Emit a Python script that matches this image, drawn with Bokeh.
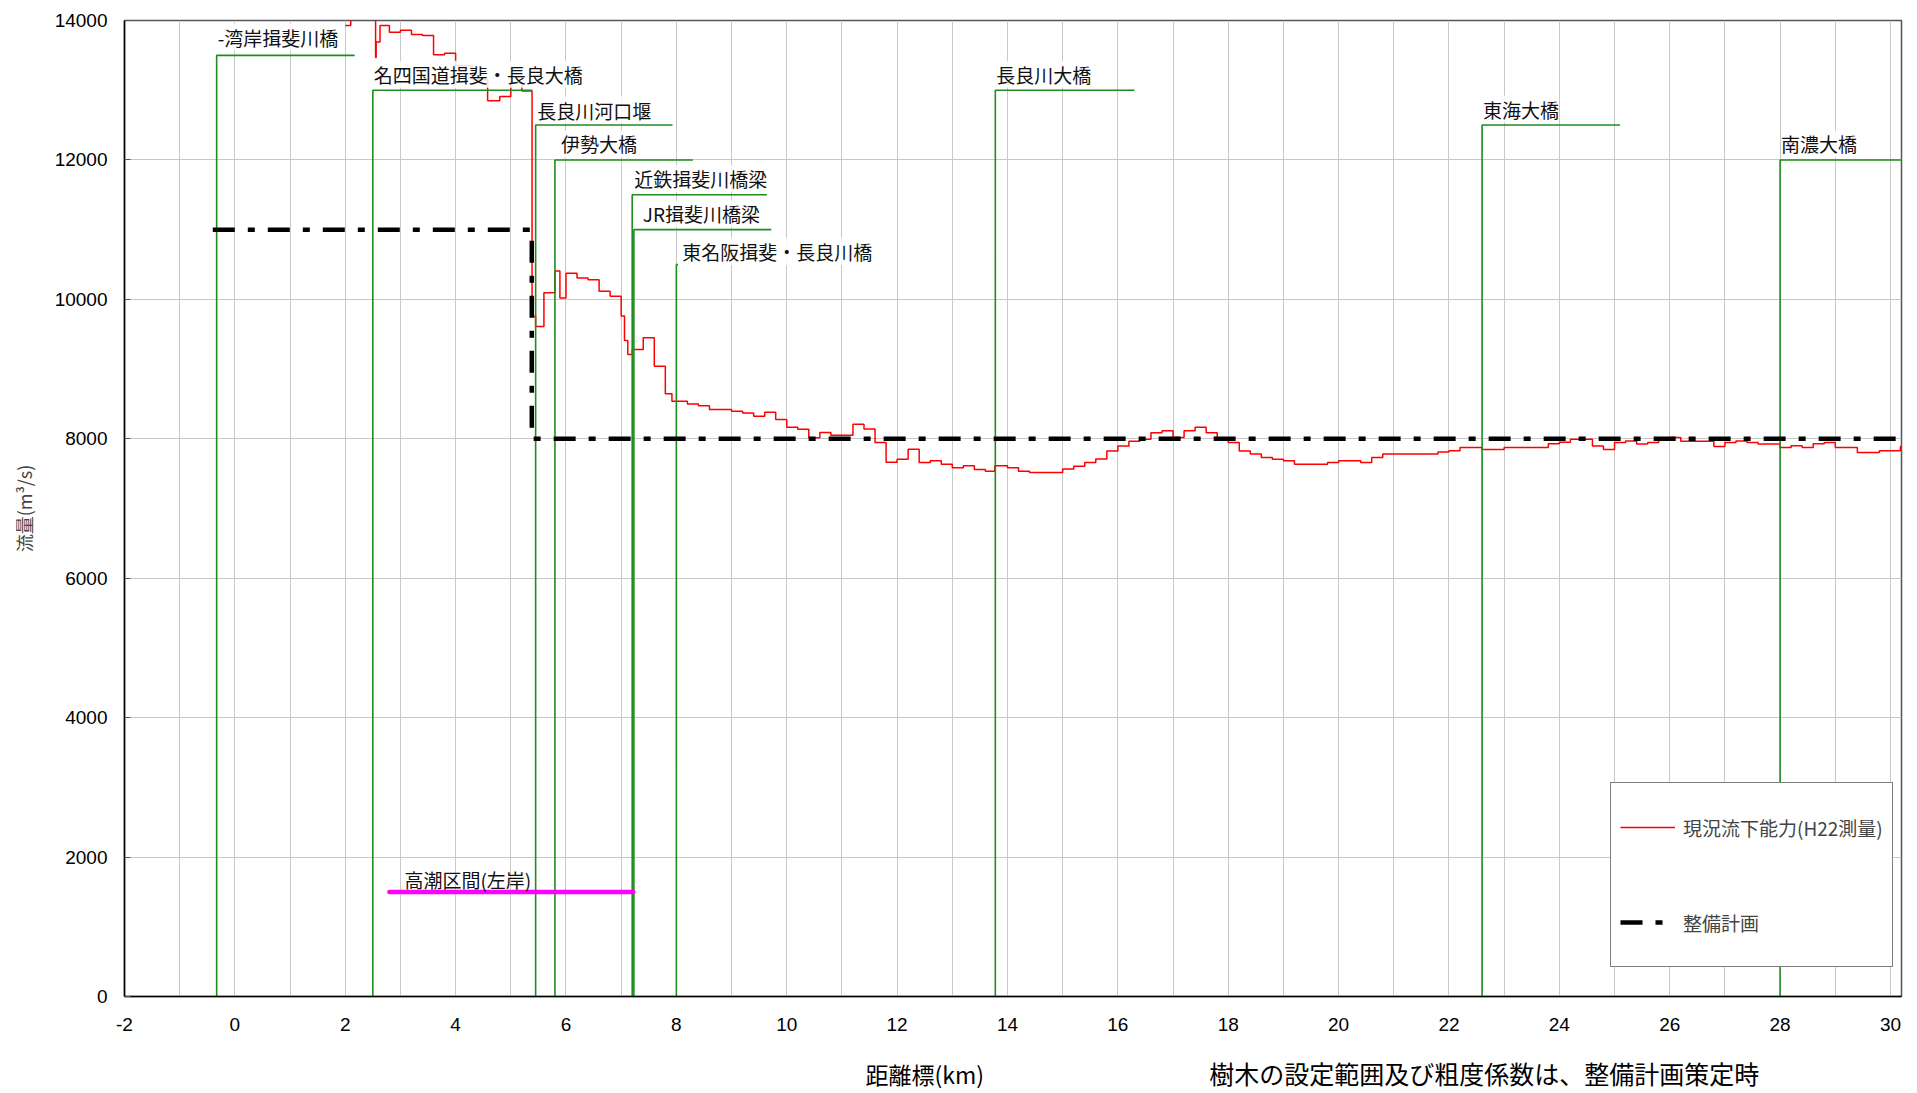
from bokeh.plotting import figure
from bokeh.models import Range1d, FixedTicker, Label, Legend, LegendItem
from bokeh.layouts import column
from bokeh.core.properties import value
from bokeh.embed import file_html
from bokeh.resources import INLINE

# ---------------- data ----------------
x_ticks = list(range(-2, 31, 2))
x_grid = list(range(-2, 31))
y_ticks = list(range(0, 14001, 2000))

# 現況流下能力(H22測量): step starts (km) and discharge (m3/s)
red_km = [2.0, 2.1, 2.55, 2.56, 2.63, 2.8, 3.0, 3.2, 3.4, 3.6, 3.8, 4.0, 4.3, 4.58, 4.8, 5.0, 5.2,
          5.385, 5.45, 5.6, 5.8, 5.89, 6.0, 6.2, 6.4, 6.6, 6.8, 7.0, 7.06, 7.12, 7.2, 7.4, 7.6, 7.8,
          7.92, 8.2, 8.4, 8.6, 9.0, 9.2, 9.4, 9.6, 9.8, 10.0, 10.2, 10.4, 10.6, 10.8, 11.2, 11.4,
          11.6, 11.8, 12.0, 12.2, 12.4, 12.6, 12.8, 13.0, 13.2, 13.4, 13.6, 13.77, 14.0, 14.2, 14.4,
          15.0, 15.2, 15.4, 15.6, 15.8, 16.0, 16.2, 16.4, 16.6, 16.8, 17.0, 17.2, 17.4, 17.6, 17.8,
          18.0, 18.2, 18.4, 18.6, 18.8, 19.0, 19.2, 19.8, 20.0, 20.4, 20.6, 20.8, 21.8, 22.0, 22.2,
          22.6, 23.0, 23.8, 24.0, 24.2, 24.6, 24.8, 25.0, 25.2, 25.4, 25.6, 25.8, 26.0, 26.2, 26.8,
          27.0, 27.2, 27.4, 27.6, 28.0, 28.2, 28.4, 28.6, 28.8, 29.0, 29.4, 29.8, 30.18]
red_q = [13930, 14100, 13470, 13690, 13930, 13830, 13860, 13800, 13785, 13510, 13530, 13350, 13150,
         12850, 12910, 13100, 12990,
         9755, 9610, 10095, 10405, 10020, 10375, 10305, 10280, 10115, 10045, 9760, 9410, 9210, 9280,
         9450, 9040, 8645,
         8540, 8500, 8475, 8420, 8395, 8370, 8325, 8380, 8275, 8165, 8135, 8015, 8090, 8050, 8210, 8140,
         7945, 7665, 7705, 7850, 7660, 7685, 7635, 7585, 7615, 7560, 7535, 7615, 7585, 7535, 7515,
         7565, 7605, 7660, 7710, 7825, 7895, 7965, 7995, 8085, 8115, 8020, 8115, 8165, 8085, 7995,
         7945, 7825, 7780, 7730, 7705, 7685, 7635, 7660, 7685, 7660, 7730, 7780, 7810, 7830, 7875,
         7845, 7875, 7930, 7950, 7995, 7895, 7845, 7945, 7970, 7925, 7945, 7995, 8020, 7965, 7890,
         7945, 7970, 7945, 7925, 7875, 7900, 7875, 7930, 7945, 7875, 7805, 7830, 7890]
red_end_km = 30.2

# 整備計画
plan_km = [-0.4, 5.38, 5.38, 30.2]
plan_q = [11000, 11000, 8000, 8000]

# 橋梁
bridge_names = ["-湾岸揖斐川橋", "名四国道揖斐・長良大橋", "長良川河口堰", "伊勢大橋", "近鉄揖斐川橋梁",
                "JR揖斐川橋梁", "東名阪揖斐・長良川橋", "長良川大橋", "東海大橋", "南濃大橋"]
bridge_km = [-0.33, 2.5, 5.45, 5.8, 7.2, 7.23, 8.0, 13.78, 22.6, 28.0]
bridge_top = [13500, 13000, 12500, 12000, 11500, 11000, 10500, 13000, 12500, 12000]
bridge_end = [2.17, 5.39, 7.93, 8.3, 9.64, 9.72, 8.03, 16.3, 25.1, 30.2]

# 高潮区間(左岸)
tide_km = [2.8, 7.22]
tide_q = [1500, 1500]
tide_name = "高潮区間(左岸)"

x_title = "距離標(km)"
y_title = "流量(m³/s)"
note_text = "樹木の設定範囲及び粗度係数は、整備計画策定時"
legend_names = ["現況流下能力(H22測量)", "整備計画"]

# ---------------- styles ----------------
JP = "Noto Sans CJK JP"
LAT = "Liberation Sans"
label_dx = [1, 1, 1.5, 6, 2, 9, 6, 1, 1, 1]
label_dy = [18, 16, 15, 16, 16, 16, 13, 16, 16, 16]

p = figure(width=1917, height=1050, title=None,
           x_range=Range1d(-2, red_end_km), y_range=Range1d(0, 14000),
           output_backend="svg", toolbar_location=None,
           min_border_left=124, min_border_right=16, min_border_top=20, min_border_bottom=54)
p.background_fill_color = "white"
p.border_fill_color = "white"
p.outline_line_color = "#555555"
p.outline_line_width = 1.5

p.xaxis.ticker = FixedTicker(ticks=x_ticks)
p.yaxis.ticker = FixedTicker(ticks=y_ticks)
p.xaxis.major_label_overrides = {t: str(t) for t in x_ticks}
p.xgrid.ticker = FixedTicker(ticks=x_grid)
p.ygrid.ticker = FixedTicker(ticks=y_ticks)
for g in (p.xgrid, p.ygrid):
    g.grid_line_color = "#c8c8c8"
    g.grid_line_width = 1

for ax in (p.xaxis, p.yaxis):
    ax.axis_line_color = "black"
    ax.axis_line_width = 1.5
    ax.minor_tick_line_color = None
    ax.major_label_text_font = LAT
    ax.major_label_text_font_size = "19px"
    ax.major_label_text_color = "black"
p.xaxis.major_tick_in = 0
p.xaxis.major_tick_out = 0
p.xaxis.major_label_standoff = 21
p.yaxis.major_tick_in = 6
p.yaxis.major_tick_out = 0
p.yaxis.major_tick_line_color = "#555555"
p.yaxis.major_label_standoff = 17
p.yaxis.axis_label = y_title
p.yaxis.axis_label_text_font = JP
p.yaxis.axis_label_text_font_size = "18px"
p.yaxis.axis_label_text_font_style = "normal"
p.yaxis.axis_label_standoff = 15

# red capacity line
red_r = p.step(x=red_km + [red_end_km], y=red_q + [red_q[-1]], mode="after",
               line_color="#ff0000", line_width=1.5)

# bridges (green)
p.multi_line(xs=[[k, k, e] for k, e in zip(bridge_km, bridge_end)],
             ys=[[0, t, t] for t in bridge_top],
             line_color="#1e8c1e", line_width=1.6)

# magenta high tide section
p.line(tide_km, tide_q, line_color="#ff00ff", line_width=4.5, line_cap="round")

# plan line
plan_r = p.line(plan_km, plan_q, line_color="black", line_width=4.5, line_dash="22 13 7 13")

# bridge labels
for name, k, t, dx, dy in zip(bridge_names, bridge_km, bridge_top, label_dx, label_dy):
    p.add_layout(Label(x=k, y=t, x_offset=dx, y_offset=dy, text=name,
                       text_font=JP, text_font_size="19px", text_color="#111111",
                       text_baseline="middle", text_align="left",
                       background_fill_color="white", background_fill_alpha=0.85))

p.add_layout(Label(x=tide_km[0], y=tide_q[0], x_offset=15, y_offset=12, text=tide_name,
                   text_font=JP, text_font_size="19px", text_color="#111111",
                   text_baseline="middle", text_align="left"))

legend = Legend(items=[LegendItem(label=legend_names[0], renderers=[red_r]),
                       LegendItem(label=legend_names[1], renderers=[plan_r])],
                location=(1486, 29))
legend.label_text_font = JP
legend.label_text_font_size = "19px"
legend.glyph_width = 55
legend.glyph_height = 70
legend.label_height = 70
legend.spacing = 25
legend.padding = 9
legend.margin = 0
legend.label_standoff = 8
legend.border_line_color = "black"
legend.border_line_width = 1
legend.background_fill_color = "white"
legend.background_fill_alpha = 1
p.add_layout(legend)

# bottom strip with the x title and the note
p2 = figure(width=1917, height=43, title=None, x_range=p.x_range, y_range=Range1d(0, 1),
            output_backend="svg", toolbar_location=None,
            min_border_left=124, min_border_right=16, min_border_top=0, min_border_bottom=0)
p2.axis.visible = False
p2.xgrid.visible = False
p2.ygrid.visible = False
p2.outline_line_color = None
p2.background_fill_color = "white"
p2.border_fill_color = "white"
p2.text(x=[12.5], y=[0.45], text=[x_title], text_font=value(JP), text_font_size="23px",
        text_align="center", text_baseline="middle", text_color="black")
p2.text(x=[22.64], y=[0.47], text=[note_text], text_font=value(JP), text_font_size="25px",
        text_align="center", text_baseline="middle", text_color="black")

layout = column(p, p2, spacing=0)
open("out.html", "w").write(file_html(layout, INLINE))
